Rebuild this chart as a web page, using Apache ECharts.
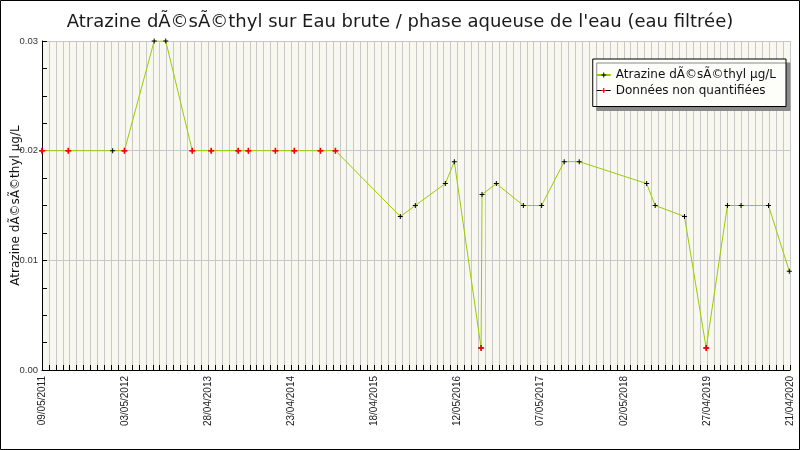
<!DOCTYPE html>
<html>
<head>
<meta charset="utf-8">
<script src="https://cdn.jsdelivr.net/npm/echarts@6/dist/echarts.min.js"></script>
<style>
html,body{margin:0;padding:0;background:#fff;}
#chart{width:800px;height:450px;}
</style>
</head>
<body>
<div id="chart"></div>
<script>
// ---- data ----
var titleText = "Atrazine dÃ©sÃ©thyl sur Eau brute / phase aqueuse de l'eau (eau filtrée)";
var seriesName = "Atrazine dÃ©sÃ©thyl µg/L";
var nqName = "Données non quantifiées";
var axisStart = "2011-05-09";
var tickStepDays = 360;
var tickLabels = ["09/05/2011","03/05/2012","28/04/2013","23/04/2014","18/04/2015","12/05/2016","07/05/2017","02/05/2018","27/04/2019","21/04/2020"];
var sampleDates = ["2011-05-09","2011-08-31","2012-03-10","2012-04-30","2012-09-06","2012-10-26","2013-02-18","2013-05-11","2013-09-05","2013-10-19","2014-02-13","2014-05-06","2014-08-27","2014-10-31","2015-08-08","2015-10-12","2016-02-19","2016-03-29","2016-07-23","2016-07-27","2016-09-27","2017-01-22","2017-04-11","2017-07-18","2017-09-21","2018-07-10","2018-08-16","2018-12-21","2019-03-25","2019-06-25","2019-08-23","2019-12-20","2020-03-19"];
var sampleValues = [0.02,0.02,0.02,0.02,0.03,0.03,0.02,0.02,0.02,0.02,0.02,0.02,0.02,0.02,0.014,0.015,0.017,0.019,0.002,0.016,0.017,0.015,0.015,0.019,0.019,0.017,0.015,0.014,0.002,0.015,0.015,0.015,0.009];
var nonQuantified = [1,1,0,1,0,0,1,1,1,1,1,1,1,1,0,0,0,0,1,0,0,0,0,0,0,0,0,0,1,0,0,0,0];

// ---- build ----
function dayOffset(s){
  var p = s.split('-'), q = axisStart.split('-');
  return Math.round((Date.UTC(+p[0],+p[1]-1,+p[2]) - Date.UTC(+q[0],+q[1]-1,+q[2]))/86400000);
}
var mainData = [], nqData = [];
for (var i=0;i<sampleDates.length;i++){
  var d = dayOffset(sampleDates[i]);
  mainData.push([d, sampleValues[i]]);
  if (nonQuantified[i]) nqData.push([d, sampleValues[i]]);
}
var plusThin = 'path://M2,0H3V2H5V3H3V5H2V3H0V2H2Z';
var plusFat = 'path://M3,0H5V3H8V5H5V8H3V5H0V3H3Z';

var chart = echarts.init(document.getElementById('chart'), null, {renderer:'canvas'});
chart.setOption({
  backgroundColor:'#ffffff',
  animation:false,
  title:{
    text:titleText, left:'center', top:8,
    textStyle:{fontFamily:'DejaVu Sans', fontSize:18, fontWeight:'normal', color:'#1a1a1a'}
  },
  graphic:[{type:'rect', shape:{x:0.5, y:0.5, width:799, height:449}, style:{fill:'none', stroke:'#000', lineWidth:1}, silent:true, z:100}],
  legend:{
    orient:'vertical', right:14, top:59,
    padding:[9,10,9,3], itemGap:1.5, itemWidth:14, itemHeight:6,
    backgroundColor:'#fdfdf9', borderColor:'#000', borderWidth:1,
    shadowColor:'#8a8a8a', shadowBlur:0, shadowOffsetX:4, shadowOffsetY:4,
    textStyle:{fontFamily:'DejaVu Sans', fontSize:12, color:'#111', lineHeight:14},
    data:[
      {name:seriesName},
      {name:nqName, lineStyle:{opacity:1, color:'#000', width:1}}
    ]
  },
  grid:{left:42, right:10, top:41, bottom:80, show:true, backgroundColor:'#f8f8f0', borderWidth:0, containLabel:false, outerBoundsMode:'none'},
  xAxis:{
    type:'value', min:0, max:tickStepDays*(tickLabels.length-1), interval:tickStepDays,
    axisLine:{show:true, lineStyle:{color:'#000', width:1}},
    axisTick:{show:true, inside:true, length:5, lineStyle:{color:'#000'}},
    minorTick:{show:true, splitNumber:12, length:5, lineStyle:{color:'#000'}},
    splitLine:{show:true, lineStyle:{color:'#c8c8c8', width:1}},
    minorSplitLine:{show:true, lineStyle:{color:'#c8c8c8', width:1}},
    axisLabel:{
      rotate:90, margin:6, fontFamily:'Liberation Sans', fontSize:10, color:'#222',
      showMinLabel:true, showMaxLabel:true,
      formatter:function(v){ return tickLabels[Math.round(v/tickStepDays)] || ''; }
    }
  },
  yAxis:{
    type:'value', min:0, max:0.03, interval:0.01,
    name:seriesName, nameLocation:'middle', nameGap:20, nameMoveOverlap:false,
    nameTextStyle:{fontFamily:'DejaVu Sans', fontSize:12, color:'#111'},
    axisLine:{show:true, lineStyle:{color:'#000', width:1}},
    axisTick:{show:true, inside:true, length:5, lineStyle:{color:'#000'}},
    minorTick:{show:true, splitNumber:4, length:5, lineStyle:{color:'#000'}},
    splitLine:{show:true, lineStyle:{color:'#c8c8c8', width:1}},
    axisLabel:{margin:4, fontFamily:'Liberation Sans', fontSize:9.5, color:'#333',
      formatter:function(v){ return v.toFixed(2); }}
  },
  series:[
    {
      name:seriesName, type:'line', data:mainData,
      symbol:plusThin, symbolSize:5, showAllSymbol:true,
      lineStyle:{color:'#99cc00', width:1},
      itemStyle:{color:'#000'},
      z:2
    },
    {
      name:nqName, type:'line', data:nqData,
      symbol:plusFat, symbolSize:6, showAllSymbol:true,
      lineStyle:{color:'#000', width:1, opacity:0},
      itemStyle:{color:'#ff0000'},
      z:3
    }
  ]
});
</script>
</body>
</html>
